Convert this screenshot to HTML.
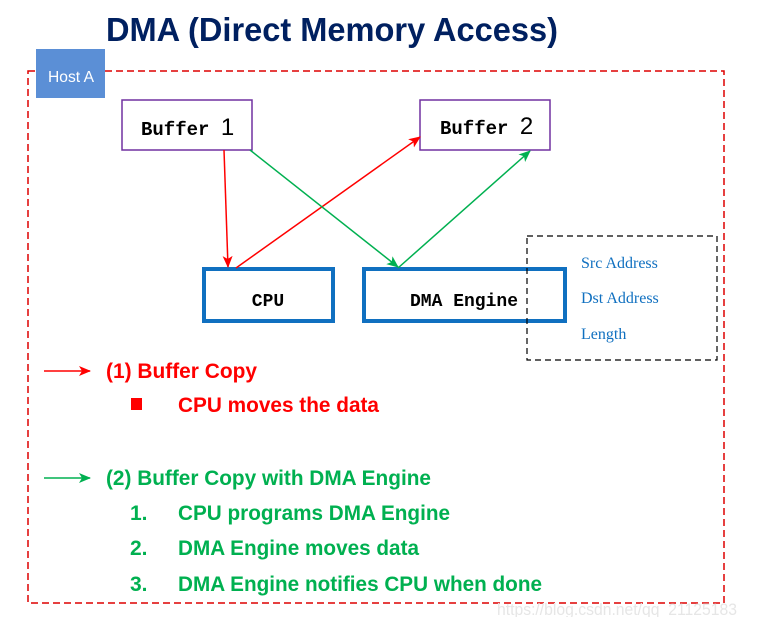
<!DOCTYPE html>
<html><head><style>
body{margin:0;background:#fff;width:757px;height:617px;overflow:hidden}
svg text{font-family:"Liberation Sans",sans-serif}
</style></head><body>
<svg width="757" height="617" viewBox="0 0 757 617" xmlns="http://www.w3.org/2000/svg">
<defs>
<marker id="r" markerWidth="12" markerHeight="12" refX="11" refY="6" orient="auto" markerUnits="userSpaceOnUse"><path d="M0,1 L12,6 L0,11 L3,6z" fill="#f00"/></marker>
<marker id="g" markerWidth="12" markerHeight="12" refX="11" refY="6" orient="auto" markerUnits="userSpaceOnUse"><path d="M0,1 L12,6 L0,11 L3,6z" fill="#00b050"/></marker>
</defs>
<text x="106" y="41" font-size="33" font-weight="bold" fill="#002060" textLength="452" lengthAdjust="spacingAndGlyphs">DMA (Direct Memory Access)</text>
<rect x="28" y="71" width="696" height="532" fill="none" stroke="#d00" stroke-width="1.5" stroke-dasharray="7,4"/>
<rect x="36" y="49" width="69" height="49" fill="#5b8fd6"/>
<text x="48" y="82" font-size="16" fill="#fff" textLength="46" lengthAdjust="spacingAndGlyphs">Host A</text>
<rect x="122" y="100" width="130" height="50" fill="#fff" stroke="#7030a0" stroke-width="1.5"/>
<text x="141" y="135" font-size="19" font-weight="bold" style="font-family:'Liberation Mono',monospace">Buffer <tspan font-size="24" style="font-family:'Liberation Sans',sans-serif" font-weight="normal">1</tspan></text>
<rect x="420" y="100" width="130" height="50" fill="#fff" stroke="#7030a0" stroke-width="1.5"/>
<text x="440" y="134" font-size="19" font-weight="bold" style="font-family:'Liberation Mono',monospace">Buffer <tspan font-size="24" style="font-family:'Liberation Sans',sans-serif" font-weight="normal">2</tspan></text>
<rect x="204" y="269" width="129" height="52" fill="#fff" stroke="#1070c0" stroke-width="4"/>
<text x="268" y="306" font-size="18" font-weight="bold" text-anchor="middle" style="font-family:'Liberation Mono',monospace">CPU</text>
<rect x="364" y="269" width="201" height="52" fill="#fff" stroke="#1070c0" stroke-width="4"/>
<text x="464" y="306" font-size="18" font-weight="bold" text-anchor="middle" style="font-family:'Liberation Mono',monospace">DMA Engine</text>
<rect x="527" y="236" width="190" height="124" fill="none" stroke="#000" stroke-width="1.2" stroke-dasharray="6,4"/>
<g font-size="16" fill="#1070c0">
<text x="581" y="268" style="font-family:'Liberation Serif',serif">Src Address</text>
<text x="581" y="303" style="font-family:'Liberation Serif',serif">Dst Address</text>
<text x="581" y="339" style="font-family:'Liberation Serif',serif">Length</text>
</g>
<line x1="224" y1="150" x2="228" y2="267" stroke="#f00" stroke-width="1.5" marker-end="url(#r)"/>
<line x1="236" y1="268" x2="420" y2="137" stroke="#f00" stroke-width="1.5" marker-end="url(#r)"/>
<line x1="250" y1="150" x2="398" y2="267" stroke="#00b050" stroke-width="1.5" marker-end="url(#g)"/>
<line x1="398" y1="268" x2="530" y2="151" stroke="#00b050" stroke-width="1.5" marker-end="url(#g)"/>
<line x1="44" y1="371" x2="90" y2="371" stroke="#f00" stroke-width="1.5" marker-end="url(#r)"/>
<line x1="44" y1="478" x2="90" y2="478" stroke="#00b050" stroke-width="1.5" marker-end="url(#g)"/>
<g font-size="21" font-weight="bold">
<text x="106" y="378" fill="#f00" textLength="151" lengthAdjust="spacingAndGlyphs">(1) Buffer Copy</text>
<rect x="131" y="398" width="11" height="12" fill="#f00"/>
<text x="178" y="412" fill="#f00" textLength="201" lengthAdjust="spacingAndGlyphs">CPU moves the data</text>
<text x="106" y="485" fill="#00b050" textLength="325" lengthAdjust="spacingAndGlyphs">(2) Buffer Copy with DMA Engine</text>
<text x="130" y="520" fill="#00b050">1.</text>
<text x="178" y="520" fill="#00b050" textLength="272" lengthAdjust="spacingAndGlyphs">CPU programs DMA Engine</text>
<text x="130" y="555" fill="#00b050">2.</text>
<text x="178" y="555" fill="#00b050" textLength="241" lengthAdjust="spacingAndGlyphs">DMA Engine moves data</text>
<text x="130" y="591" fill="#00b050">3.</text>
<text x="178" y="591" fill="#00b050" textLength="364" lengthAdjust="spacingAndGlyphs">DMA Engine notifies CPU when done</text>
</g>
<text x="497" y="615" font-size="17" fill="#e6e6e6" textLength="240" lengthAdjust="spacingAndGlyphs">https://blog.csdn.net/qq_21125183</text>
</svg>
</body></html>
